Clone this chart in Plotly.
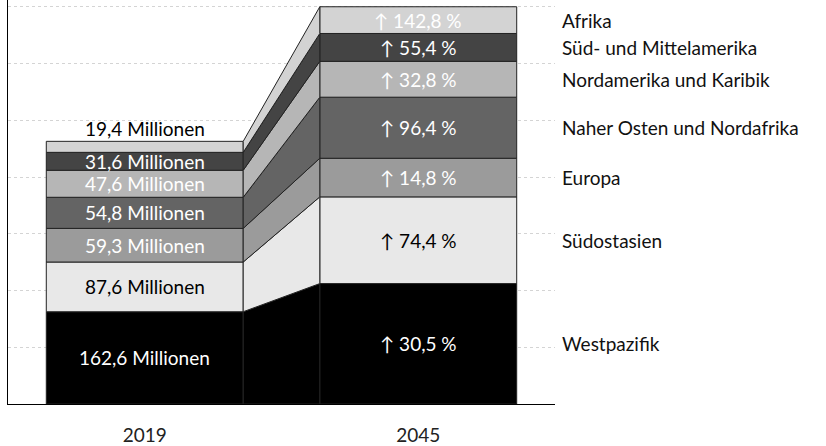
import plotly.graph_objects as go

regions = ["Westpazifik", "Südostasien", "Europa", "Naher Osten und Nordafrika",
           "Nordamerika und Karibik", "Süd- und Mittelamerika", "Afrika"]
values_2019 = [162.6, 87.6, 59.3, 54.8, 47.6, 31.6, 19.4]
values_2045 = [212.2, 152.8, 68.1, 107.6, 63.2, 49.1, 47.1]
growth_pct = ["30,5", "74,4", "14,8", "96,4", "32,8", "55,4", "142,8"]
labels_2019 = ["162,6", "87,6", "59,3", "54,8", "47,6", "31,6", "19,4"]
years = ["2019", "2045"]

colors = ["#000000", "#e8e8e8", "#9b9b9b", "#646464", "#b6b6b6", "#444444", "#d3d3d3"]
text_colors_2019 = ["white", "black", "white", "white", "white", "white", "black"]
text_colors_2045 = ["white", "black", "white", "white", "white", "white", "white"]

FONT = "Lato"
FS = 19
W = 0.72
OUT = "#222222"

fig = go.Figure()

base19, base45 = [], []
c19 = c45 = 0.0
for a, b in zip(values_2019, values_2045):
    base19.append(c19); base45.append(c45)
    c19 += a; c45 += b

# connectors between the two stacked bars
for i in range(len(regions)):
    x0, x1 = 0 + W / 2, 1 - W / 2
    lo0, hi0 = base19[i], base19[i] + values_2019[i]
    lo1, hi1 = base45[i], base45[i] + values_2045[i]
    fig.add_trace(go.Scatter(
        x=[x0, x1, x1, x0, x0], y=[lo0, lo1, hi1, hi0, lo0],
        mode="lines", fill="toself", fillcolor=colors[i],
        line=dict(color=OUT, width=1), hoverinfo="skip", showlegend=False))

for i in range(len(regions)):
    fig.add_trace(go.Bar(
        x=[0, 1], y=[values_2019[i], values_2045[i]], base=[base19[i], base45[i]],
        width=W, marker=dict(color=colors[i], line=dict(color=OUT, width=1)),
        name=regions[i], showlegend=False, hoverinfo="skip"))

ann = []
for i in range(len(regions)):
    mid19 = base19[i] + values_2019[i] / 2
    mid45 = base45[i] + values_2045[i] / 2
    if i == len(regions) - 1:
        ann.append(dict(x=0, y=base19[i] + values_2019[i], yshift=-1, yanchor="bottom",
                        text=f"{labels_2019[i]} Millionen", showarrow=False,
                        font=dict(family=FONT, size=FS, color=text_colors_2019[i])))
    else:
        ann.append(dict(x=0, y=mid19, text=f"{labels_2019[i]} Millionen", showarrow=False,
                        font=dict(family=FONT, size=FS, color=text_colors_2019[i])))
    ann.append(dict(x=1, y=mid45, text=f"↑ {growth_pct[i]} %", showarrow=False,
                    font=dict(family=FONT, size=FS, color=text_colors_2045[i])))
    ann.append(dict(x=1.0, xref="paper", xshift=5, y=mid45, xanchor="left",
                    text=regions[i], showarrow=False,
                    font=dict(family=FONT, size=FS, color="#111111")))

fig.update_layout(
    width=826, height=446, margin=dict(l=8, r=271, t=0, b=39),
    plot_bgcolor="white", paper_bgcolor="white", barmode="overlay",
    annotations=ann,
    xaxis=dict(range=[-0.5, 1.5], tickmode="array", tickvals=[0, 1], ticktext=years,
               showgrid=False, zeroline=False, showline=True, linecolor="black", linewidth=1,
               ticks="", ticklabelstandoff=14,
               tickfont=dict(family=FONT, size=FS, color="#222222")),
    yaxis=dict(range=[0, 712], tickvals=[100, 200, 300, 400, 500, 600, 700],
               showticklabels=False, showgrid=True, gridcolor="#d4d4d4", griddash="dot",
               gridwidth=1, zeroline=False, showline=True, linecolor="black", linewidth=1,
               ticks=""),
)
fig.write_html("out.html", config={"displayModeBar": False},
               post_script="document.body.style.margin='0';")
